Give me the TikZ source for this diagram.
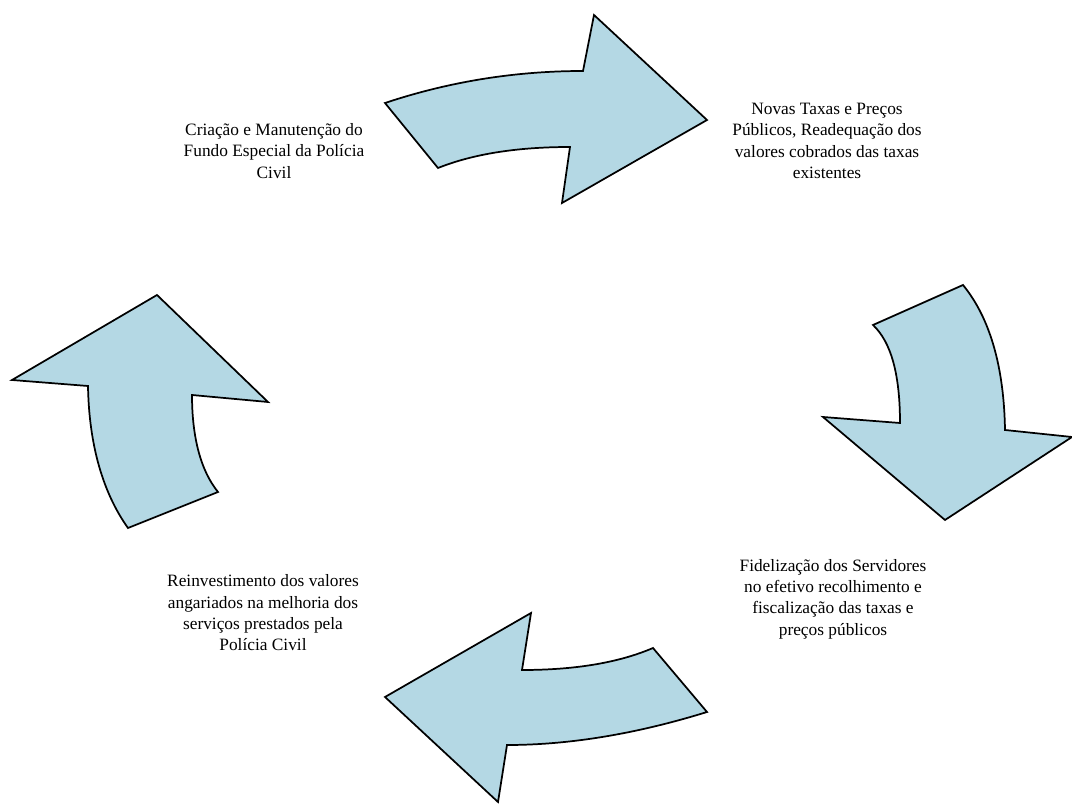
\documentclass[tikz,border=0pt]{standalone}
\usepackage{fontspec}
\setmainfont{Liberation Serif}
\definecolor{arrowblue}{RGB}{180,216,228}
\begin{document}
\begin{tikzpicture}[x=0.75pt,y=-0.75pt,
    bigarrow/.style={fill=arrowblue,draw=black,line width=1.3pt,line join=miter},
    steptext/.style={align=center,font=\fontsize{13}{16}\selectfont,inner sep=0pt}]
        \useasboundingbox (0,0) rectangle (1072,805);
        % curved arrows of the cycle
        \filldraw[bigarrow] (385,103) .. controls (448,82) and (514,71) .. (583,71) -- (594,15) -- (707,120)
            -- (562,203) -- (570,147) .. controls (517,147) and (473,154) .. (438,168) -- cycle;
        \filldraw[bigarrow] (963,285) .. controls (990,318) and (1004,367) .. (1005,430) -- (1072,437) -- (945,520)
            -- (823,417) -- (900,423) .. controls (900,374) and (891,342) .. (873,325) -- cycle;
        \filldraw[bigarrow] (707,712) .. controls (636,734) and (569,745) .. (507,745) -- (498,802) -- (385,697)
            -- (531,613) -- (522,670) .. controls (574,670) and (618,663) .. (653,648) -- cycle;
        \filldraw[bigarrow] (128,528) .. controls (103,493) and (89,445) .. (88,386) -- (12,380) -- (157,295)
            -- (268,402) -- (192,395) .. controls (192,438) and (201,471) .. (218,492) -- cycle;
        % texts
        \node[steptext] (fundo) at (274,151) {Criação e Manutenção do\\Fundo Especial da Polícia\\Civil};
        \node[steptext] (taxas) at (827,141) {Novas Taxas e Preços\\Públicos, Readequação dos\\valores cobrados das taxas\\existentes};
        \node[steptext] (servidores) at (833,599) {Fidelização dos Servidores\\no efetivo recolhimento e\\fiscalização das taxas e\\preços públicos};
        \node[steptext] (reinvest) at (263,613) {Reinvestimento dos valores\\angariados na melhoria dos\\serviços prestados pela\\Polícia Civil};
\end{tikzpicture}
\end{document}
